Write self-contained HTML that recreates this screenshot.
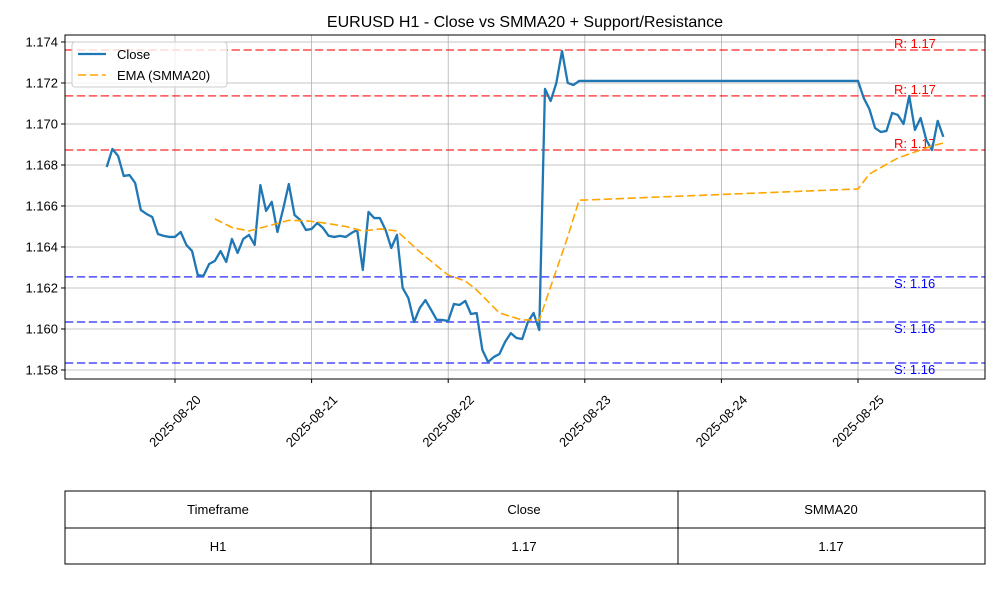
<!DOCTYPE html>
<html><head><meta charset="utf-8"><style>
body{margin:0;background:#fff;font-family:"Liberation Sans",sans-serif}
svg text{font-family:"Liberation Sans",sans-serif}
</style></head><body>
<svg id="chart" width="1000" height="600" xmlns="http://www.w3.org/2000/svg">
<rect width="1000" height="600" fill="#fff"/>
<text x="525" y="27" text-anchor="middle" font-size="16">EURUSD H1 - Close vs SMMA20 + Support/Resistance</text>
<g id="grid"></g><g id="levels"></g><g id="series"></g><g id="axes"></g>
<g>
<rect x="72" y="42" width="155" height="45" rx="3" fill="#fff" fill-opacity="0.8" stroke="#ccc"/>
<line x1="78" y1="54" x2="106" y2="54" stroke="#1f77b4" stroke-width="2.2"/>
<text x="117" y="59" font-size="13">Close</text>
<line x1="78" y1="75" x2="106" y2="75" stroke="orange" stroke-width="1.5" stroke-dasharray="8.3,3.6"/>
<text x="117" y="80" font-size="13">EMA (SMMA20)</text>
</g>
<g font-size="13">
<rect x="65" y="491" width="920" height="73" fill="none" stroke="#000"/>
<line x1="65" y1="528" x2="985" y2="528" stroke="#000"/>
<line x1="371" y1="491" x2="371" y2="564" stroke="#000"/>
<line x1="678" y1="491" x2="678" y2="564" stroke="#000"/>
<text x="218" y="514" text-anchor="middle">Timeframe</text>
<text x="524" y="514" text-anchor="middle">Close</text>
<text x="831" y="514" text-anchor="middle">SMMA20</text>
<text x="218" y="551" text-anchor="middle">H1</text>
<text x="524" y="551" text-anchor="middle">1.17</text>
<text x="831" y="551" text-anchor="middle">1.17</text>
</g>
</svg>
<script>
// hours relative to 2025-08-20 00:00
const closeHours = [-12,-11,-10,-9,-8,-7,-6,-5,-4,-3,-2,-1,0,1,2,3,4,5,6,7,8,9,10,11,12,13,14,15,16,17,18,19,20,21,22,23,24,25,26,27,28,29,30,31,32,33,34,35,36,37,38,39,40,41,42,43,44,45,46,47,48,49,50,51,52,53,54,55,56,57,58,59,60,61,62,63,64,65,66,67,68,69,70,71,72,120,121,122,123,124,125,126,127,128,129,130,131,132,133,134,135];
const closeValues = [1.16790,1.16878,1.16844,1.16746,1.16751,1.16712,1.16580,1.16561,1.16546,1.16463,1.16454,1.16449,1.16449,1.16473,1.16410,1.16380,1.16263,1.16259,1.16317,1.16332,1.16380,1.16327,1.16439,1.16371,1.16439,1.16459,1.16410,1.16702,1.16576,1.16620,1.16473,1.16585,1.16707,1.16556,1.16532,1.16483,1.16488,1.16517,1.16493,1.16454,1.16449,1.16454,1.16449,1.16468,1.16483,1.16288,1.16571,1.16541,1.16541,1.16483,1.16395,1.16459,1.16200,1.16151,1.16034,1.16102,1.16141,1.16093,1.16044,1.16044,1.16039,1.16122,1.16117,1.16137,1.16073,1.16078,1.15898,1.15839,1.15863,1.15878,1.15937,1.15980,1.15956,1.15951,1.16034,1.16078,1.15995,1.17171,1.17112,1.17200,1.17356,1.17200,1.17190,1.17210,1.17210,1.17210,1.17127,1.17073,1.16980,1.16961,1.16966,1.17054,1.17044,1.17000,1.17137,1.16971,1.17029,1.16922,1.16873,1.17015,1.16937];
const emaHours = [7,10,13,16,20,23,26,30,33,36,39,43,48,51,53,57,61,64,69,71,72,120,122,127,133,135];
const emaValues = [1.16537,1.16495,1.16478,1.16500,1.16530,1.16528,1.16518,1.16500,1.16478,1.16488,1.16478,1.16376,1.16263,1.16234,1.16190,1.16078,1.16044,1.16044,1.16449,1.16629,1.16629,1.16683,1.16756,1.16834,1.16893,1.16907];
const resistance = [1.17361,1.17137,1.16873];
const support = [1.16254,1.16034,1.15834];
const yTicks = [1.158,1.160,1.162,1.164,1.166,1.168,1.170,1.172,1.174];
const xTickHours = [0,24,48,72,96,120];
const xTickLabels = ["2025-08-20","2025-08-21","2025-08-22","2025-08-23","2025-08-24","2025-08-25"];

const L=65,R=985,T=35,B=379;
const pxPerHour=136.6/24;
const x=h=>175+h*pxPerHour;
const yMin=1.15756,yMax=1.17434;
const y=v=>B-(v-yMin)/(yMax-yMin)*(B-T);
const NS="http://www.w3.org/2000/svg";
function mk(tag,parent,attrs){const e=document.createElementNS(NS,tag);for(const k in attrs)e.setAttribute(k,attrs[k]);document.getElementById(parent).appendChild(e);return e;}

yTicks.forEach((v,i)=>{
  const g=mk('line','grid',{x1:L,x2:R,y1:y(v),y2:y(v),stroke:'#b0b0b0','stroke-width':0.8});
  
  
  mk('line','axes',{x1:L-4,x2:L,y1:y(v),y2:y(v),stroke:'#000'});
  const t=mk('text','axes',{x:L-7,y:y(v)+4.5,'text-anchor':'end','font-size':13});
  t.textContent=v.toFixed(3);
  
  
});
xTickHours.forEach((h,i)=>{
  const g=mk('line','grid',{x1:x(h),x2:x(h),y1:T,y2:B,stroke:'#b0b0b0','stroke-width':0.8});
  
  
  mk('line','axes',{x1:x(h),x2:x(h),y1:B,y2:B+4,stroke:'#000'});
  const cx=x(h), cy=B+42;
  const t=mk('text','axes',{x:cx,y:cy+4.5,'text-anchor':'middle','font-size':13,transform:`rotate(-45 ${cx} ${cy})`});
  t.textContent=xTickLabels[i];
  
  
});
const frame=mk('rect','axes',{x:L,y:T,width:R-L,height:B-T,fill:'none',stroke:'#000','stroke-width':1});



resistance.forEach(v=>{
  const l=mk('line','levels',{x1:L,x2:R,y1:y(v),y2:y(v),stroke:'red','stroke-opacity':0.7,'stroke-width':1.5,'stroke-dasharray':'8.3,3.6'});
  
  
  const t=mk('text','levels',{x:894,y:y(v)-2,fill:'red','font-size':13});
  t.textContent='R: '+v.toFixed(2);
  
  
});
support.forEach(v=>{
  const l=mk('line','levels',{x1:L,x2:R,y1:y(v),y2:y(v),stroke:'blue','stroke-opacity':0.7,'stroke-width':1.5,'stroke-dasharray':'8.3,3.6'});
  
  
  const t=mk('text','levels',{x:894,y:y(v)+11,fill:'blue','font-size':13});
  t.textContent='S: '+v.toFixed(2);
  
  
});

const cl=mk('polyline','series',{points:closeHours.map((h,i)=>x(h)+','+y(closeValues[i])).join(' '),fill:'none',stroke:'#1f77b4','stroke-width':2.3,'stroke-linejoin':'round'});


const em=mk('polyline','series',{points:emaHours.map((h,i)=>x(h)+','+y(emaValues[i])).join(' '),fill:'none',stroke:'orange','stroke-width':1.6,'stroke-dasharray':'8.3,3.6'});


</script>
</body></html>
